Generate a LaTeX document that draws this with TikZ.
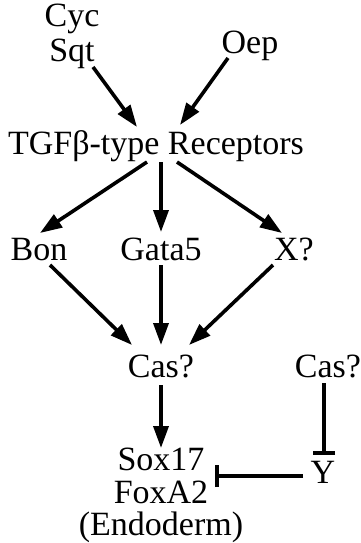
\documentclass[tikz,border=0pt]{standalone}
\usepackage{fontspec}
\setmainfont{Liberation Serif}
\usetikzlibrary{arrows.meta}
\begin{document}
\begin{tikzpicture}[x=1pt,y=-1pt,
  lbl/.style={anchor=base,inner sep=0pt,font=\fontsize{34}{40}\selectfont},
  act/.style={line width=3.6pt,-{Triangle[length=22pt,width=15pt]}},
  inh/.style={line width=3.6pt,-{Bar[width=22pt]}}]
\useasboundingbox (0,0) rectangle (361,543);
% gene labels (base points)
\node[lbl] (cyc)  at (72,27)  {Cyc};
\node[lbl] (sqt)  at (72,61)  {Sqt};
\node[lbl] (oep)  at (250,54) {Oep};
\node[lbl] (tgf)  at (156,154) {TGFβ-type Receptors};
\node[lbl] (bon)  at (39,260) {Bon};
\node[lbl] (gata) at (161,260) {Gata5};
\node[lbl] (xq)   at (294,260) {X?};
\node[lbl] (cas)  at (161,377) {Cas?};
\node[lbl] (cas2) at (328,377) {Cas?};
\node[lbl] (sox)  at (161,470) {Sox17};
\node[lbl] (fox)  at (161,503) {FoxA2};
\node[lbl] (endo) at (161,535) {(Endoderm)};
\node[lbl] (y)    at (323,483) {Y};
% activating links
\draw[act] ([shift={(21,6)}]sqt.base)  -- ([shift={(-19,-27)}]tgf.base);
\draw[act] ([shift={(-22,4)}]oep.base) -- ([shift={(24,-29)}]tgf.base);
\draw[act] ([shift={(-9,8)}]tgf.base)  -- ([shift={(1,-27)}]bon.base);
\draw[act] ([shift={(5,8)}]tgf.base)   -- ([shift={(0,-28)}]gata.base);
\draw[act] ([shift={(21,8)}]tgf.base)  -- ([shift={(-12,-27)}]xq.base);
\draw[act] ([shift={(11,5)}]bon.base)  -- ([shift={(-29,-32)}]cas.base);
\draw[act] ([shift={(0,5)}]gata.base)  -- ([shift={(0,-32)}]cas.base);
\draw[act] ([shift={(-21,5)}]xq.base)  -- ([shift={(28,-32)}]cas.base);
\draw[act] ([shift={(0,8)}]cas.base)   -- ([shift={(0,-22)}]sox.base);
% inhibiting links
\draw[inh] ([shift={(-4,6)}]cas2.base) -- ([shift={(1,-28)}]y.base);
\draw[inh] ([shift={(-20,-7)}]y.base)  -- ([shift={(54,6)}]sox.base);
\end{tikzpicture}
\end{document}
